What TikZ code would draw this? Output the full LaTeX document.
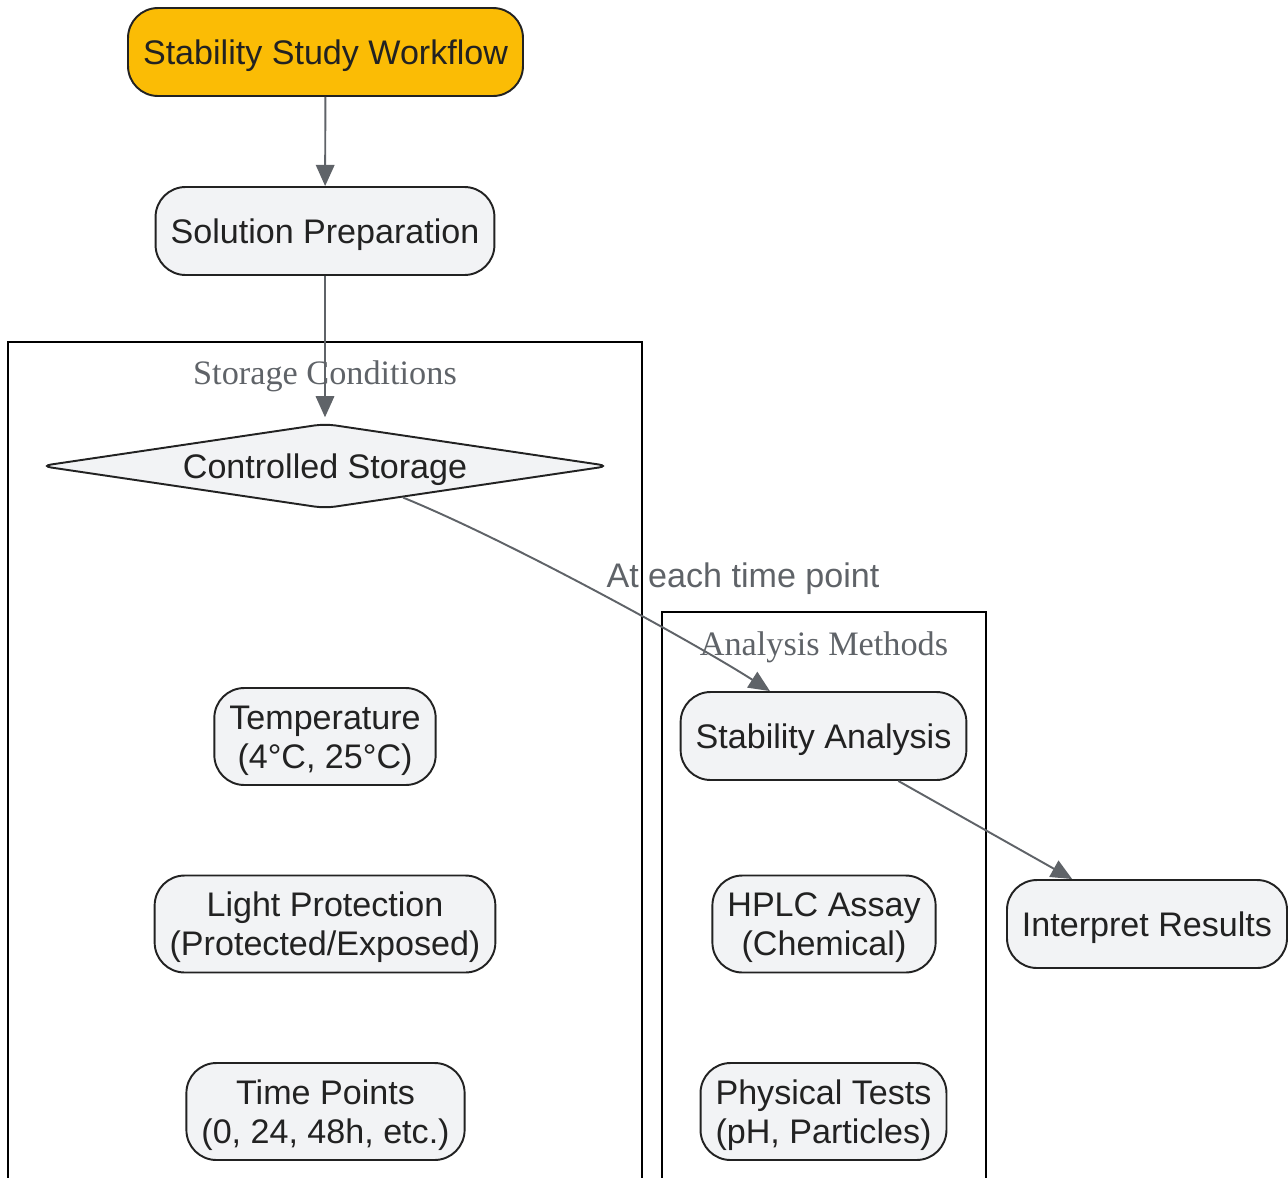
\documentclass[tikz,border=0pt]{standalone}
\usepackage{fontspec}
\setmainfont{Liberation Sans}
\newfontfamily\clusfont{Liberation Serif}
\usetikzlibrary{shapes.geometric,arrows.meta}
\definecolor{flowfill}{HTML}{F2F3F5}
\definecolor{startfill}{HTML}{FBBC05}
\definecolor{edgegrey}{HTML}{5F6368}
\definecolor{txt}{HTML}{222222}
\tikzset{
  box/.style={rectangle, rounded corners=0.6cm, draw=txt, line width=1.1pt, fill=flowfill, text=txt,
    align=center, inner xsep=0.3cm, inner ysep=0pt, minimum height=1.76cm, text height=17.8pt, text depth=3.9pt,
    font=\fontsize{19.4}{22.2}\selectfont},
  twoline/.style={box, minimum height=1.94cm, text height=40pt},
  clus/.style={draw=black, line width=1.1pt},
  cluslabel/.style={text=edgegrey, font=\clusfont\fontsize{19.5}{22}\selectfont},
  flow/.style={draw=edgegrey, line width=1.1pt, -{Triangle[length=12pt,width=10.5pt]}},
}
\begin{document}
\begin{tikzpicture}[x=0.02cm, y=-0.02cm]
    \useasboundingbox (0,0) rectangle (1288,1177);
    \draw[clus] (8,1190) |- (642,342) -- (642,1190);
    \draw[clus] (662,1190) |- (986,612) -- (986,1190);
    \node[cluslabel] (storlab) at (325,376) {Storage Conditions};
    \node[cluslabel] (analab) at (824,647) {Analysis Methods};

    \node[box, fill=startfill, minimum width=7.9cm] (start) at (325.5,52) {Stability Study Workflow};
    \node[box] (prep) at (325,231) {Solution Preparation};
    \node[diamond, aspect=6.7, draw=txt, line width=1.1pt, fill=flowfill, text=txt, rounded corners=6pt, inner sep=0pt,
      minimum width=11.38cm, minimum height=1.7cm, text height=17.8pt, text depth=3.9pt,
      font=\fontsize{19.4}{22.2}\selectfont] (ctrl) at (325,466) {Controlled Storage};
    \node[twoline] (temp) at (325,736.5) {Temperature\\(4°C, 25°C)};
    \node[twoline] (light) at (325,924) {Light Protection\\(Protected/Exposed)};
    \node[twoline] (tpts) at (325.5,1111.5) {Time Points\\(0, 24, 48h, etc.)};
    \node[box] (ana) at (823.5,736) {Stability Analysis};
    \node[twoline] (hplc) at (824,924) {HPLC Assay\\(Chemical)};
    \node[twoline] (phys) at (823.5,1111.5) {Physical Tests\\(pH, Particles)};
    \node[box] (intp) at (1147,924) {Interpret Results};

    \draw[flow] (start) -- (prep);
    \draw[flow] (prep) -- ([yshift=3pt]ctrl.north);
    \draw[flow] (ctrl.-22) .. controls +(110,45) and +(-70,-45) .. (ana.140);
    \node[text=edgegrey, font=\fontsize{19.4}{22.2}\selectfont] (tplab) at (743,579) {At each time point};
    \draw[flow] (ana.-31) -- (intp.149.6);
\end{tikzpicture}
\end{document}
